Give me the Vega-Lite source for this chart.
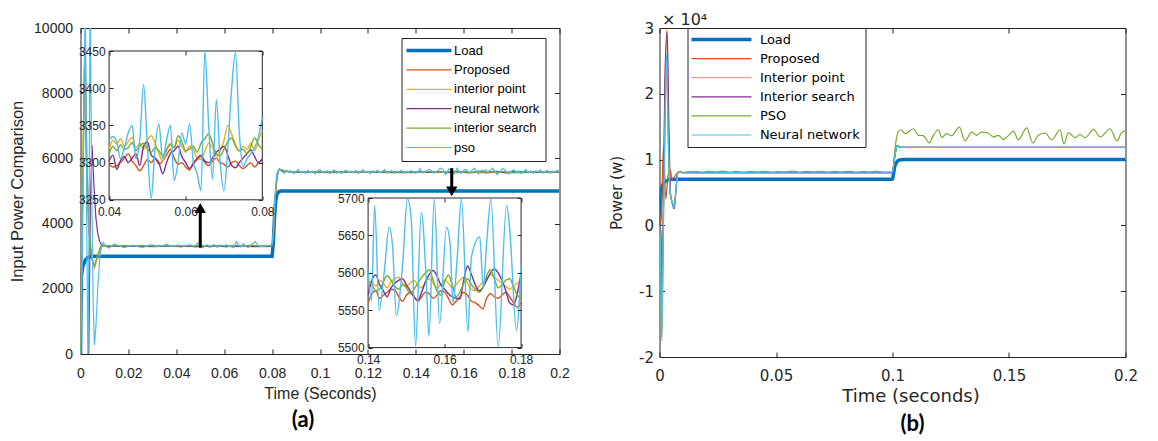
{
"$schema": "https://vega.github.io/schema/vega-lite/v6.json",
"background": "white",
"padding": {"left": 8.5, "top": 10, "right": 0, "bottom": 0},
"bounds": "flush",
"spacing": 100,
"config": {
  "view": {"stroke": "#262626", "strokeWidth": 1},
  "font": "Liberation Sans",
  "axis": {"grid": false, "domain": false, "tickColor": "#262626", "labelColor": "#262626", "titleColor": "#262626", "labelFont": "Liberation Sans", "titleFont": "Liberation Sans", "titleFontWeight": "normal", "labelFontSize": 14, "titleFontSize": 16, "tickSize": -5, "labelFlush": false, "labelOverlap": false}
},
"resolve": {"scale": {"color": "independent"}, "legend": {"color": "independent"}},
"datasets": {
"a": [
{"t":0,"L":0,"P":0,"IP":0,"NN":0,"IS":0,"PSO":0},
{"t":0.0002,"L":1500},
{"t":0.0003,"P":2400,"IP":2600},
{"t":0.0004,"L":2400},
{"t":0.0005,"IS":2800},
{"t":0.0008,"PSO":3000},
{"t":0.001,"L":2700,"P":5000,"NN":-2000},
{"t":0.0012,"IP":7000},
{"t":0.0014,"IS":8000,"PSO":7000},
{"t":0.0016,"P":8800},
{"t":0.0018,"IP":9500},
{"t":0.002,"L":2880,"IS":9400,"PSO":11500},
{"t":0.0024,"P":6000},
{"t":0.0026,"IP":6000,"PSO":4000},
{"t":0.0028,"IS":5500},
{"t":0.003,"L":2960,"NN":-2000},
{"t":0.0031,"PSO":-500},
{"t":0.0034,"P":3800,"NN":-300},
{"t":0.0036,"IP":3800,"PSO":4000},
{"t":0.0038,"IS":3600},
{"t":0.004,"L":2990,"PSO":11500},
{"t":0.0041,"NN":4500},
{"t":0.0045,"P":3000},
{"t":0.0046,"IP":3000},
{"t":0.0047,"PSO":5000},
{"t":0.0048,"IS":2900,"NN":6400},
{"t":0.005,"L":3000},
{"t":0.0053,"PSO":1500},
{"t":0.0056,"NN":5200},
{"t":0.0058,"P":2650,"IP":2680,"IS":2700,"PSO":280},
{"t":0.0064,"NN":4200,"PSO":800},
{"t":0.007,"P":2950},
{"t":0.0072,"IP":3000,"IS":3050,"NN":3700,"PSO":2000},
{"t":0.008,"NN":3450,"PSO":2900},
{"t":0.0085,"P":3250,"IP":3300,"IS":3320},
{"t":0.0088,"PSO":3300},
{"t":0.009,"NN":3330},
{"t":0.0095,"P":3330,"IP":3350,"IS":3340,"PSO":3420},
{"t":0.0105,"P":3320,"IP":3335,"NN":3310,"IS":3335,"PSO":3300},
{"t":0.012,"P":3310,"IP":3325,"NN":3305,"IS":3320,"PSO":3250},
{"t":0.014,"PSO":3370},
{"t":0.015,"P":3300,"IP":3322,"NN":3305,"IS":3318},
{"t":0.016,"PSO":3330},
{"t":0.018,"PSO":3260},
{"t":0.02,"P":3298,"IP":3326,"NN":3302,"IS":3320,"PSO":3300},
{"t":0.022,"PSO":3340},
{"t":0.024,"PSO":3290},
{"t":0.025,"P":3302,"IP":3320,"NN":3306,"IS":3316},
{"t":0.026,"PSO":3260},
{"t":0.028,"PSO":3330},
{"t":0.03,"P":3296,"IP":3324,"NN":3300,"IS":3322,"PSO":3350},
{"t":0.032,"PSO":3290},
{"t":0.034,"PSO":3320},
{"t":0.035,"P":3300,"IP":3318,"NN":3304,"IS":3318},
{"t":0.036,"PSO":3360},
{"t":0.038,"PSO":3300},
{"t":0.040,"P":3298,"IP":3318,"NN":3302,"IS":3312,"PSO":3330},
{"t":0.041,"P":3294,"IP":3330,"NN":3310,"IS":3322,"PSO":3335},
{"t":0.042,"P":3296,"IP":3325,"NN":3291,"IS":3316,"PSO":3328},
{"t":0.043,"P":3300,"IP":3332,"NN":3303,"IS":3324,"PSO":3305},
{"t":0.044,"P":3306,"IP":3322,"NN":3308,"IS":3318,"PSO":3320},
{"t":0.045,"P":3312,"IP":3328,"NN":3300,"IS":3320,"PSO":3340},
{"t":0.046,"P":3302,"IP":3334,"NN":3306,"IS":3327,"PSO":3350},
{"t":0.047,"P":3296,"IP":3320,"NN":3312,"IS":3316,"PSO":3305},
{"t":0.048,"P":3289,"IP":3326,"NN":3296,"IS":3322,"PSO":3330},
{"t":0.049,"P":3296,"IP":3318,"NN":3322,"IS":3326,"PSO":3405},
{"t":0.050,"P":3304,"IP":3330,"NN":3328,"IS":3318,"PSO":3320},
{"t":0.051,"P":3300,"IP":3336,"NN":3310,"IS":3314,"PSO":3252},
{"t":0.052,"P":3306,"IP":3326,"NN":3306,"IS":3320,"PSO":3320},
{"t":0.053,"P":3298,"IP":3312,"NN":3300,"IS":3316,"PSO":3352},
{"t":0.054,"P":3302,"IP":3302,"NN":3285,"IS":3309,"PSO":3305},
{"t":0.055,"P":3310,"IP":3316,"NN":3300,"IS":3318,"PSO":3330},
{"t":0.056,"P":3318,"IP":3326,"NN":3312,"IS":3324,"PSO":3350},
{"t":0.057,"P":3306,"IP":3320,"NN":3316,"IS":3320,"PSO":3276},
{"t":0.058,"P":3298,"IP":3330,"NN":3322,"IS":3336,"PSO":3300},
{"t":0.059,"P":3300,"IP":3322,"NN":3308,"IS":3328,"PSO":3340},
{"t":0.060,"P":3294,"IP":3314,"NN":3300,"IS":3316,"PSO":3325},
{"t":0.061,"P":3290,"IP":3322,"NN":3292,"IS":3318,"PSO":3352},
{"t":0.062,"P":3300,"IP":3318,"NN":3298,"IS":3322,"PSO":3300},
{"t":0.063,"P":3304,"IP":3306,"NN":3306,"IS":3314,"PSO":3285},
{"t":0.064,"P":3308,"IP":3304,"NN":3310,"IS":3326,"PSO":3262},
{"t":0.065,"P":3300,"IP":3316,"NN":3302,"IS":3332,"PSO":3450},
{"t":0.066,"P":3296,"IP":3326,"NN":3300,"IS":3339,"PSO":3350},
{"t":0.067,"P":3302,"IP":3320,"NN":3306,"IS":3326,"PSO":3278},
{"t":0.068,"P":3306,"IP":3308,"NN":3314,"IS":3312,"PSO":3385},
{"t":0.069,"P":3300,"IP":3316,"NN":3318,"IS":3309,"PSO":3300},
{"t":0.070,"P":3298,"IP":3330,"NN":3322,"IS":3318,"PSO":3262},
{"t":0.071,"P":3294,"IP":3350,"NN":3310,"IS":3328,"PSO":3320},
{"t":0.072,"P":3300,"IP":3338,"NN":3296,"IS":3333,"PSO":3400},
{"t":0.073,"P":3302,"IP":3324,"NN":3293,"IS":3322,"PSO":3448},
{"t":0.074,"P":3296,"IP":3316,"NN":3300,"IS":3316,"PSO":3340},
{"t":0.075,"P":3292,"IP":3322,"NN":3306,"IS":3318,"PSO":3295},
{"t":0.076,"P":3296,"IP":3318,"NN":3312,"IS":3312,"PSO":3305},
{"t":0.077,"P":3300,"IP":3326,"NN":3317,"IS":3322,"PSO":3312},
{"t":0.078,"P":3294,"IP":3316,"NN":3308,"IS":3333,"PSO":3320},
{"t":0.079,"P":3300,"IP":3330,"NN":3300,"IS":3324,"PSO":3335},
{"t":0.080,"L":3000,"P":3304,"IP":3343,"NN":3305,"IS":3318,"PSO":3360},
{"t":0.0805,"L":3400,"P":3600,"IP":3600,"NN":3600,"IS":3600,"PSO":3700},
{"t":0.081,"L":4200,"P":4400,"IP":4400,"NN":4400,"IS":4400,"PSO":4600},
{"t":0.0815,"L":4700,"P":5000,"IP":5000,"NN":5000,"IS":5000,"PSO":5200},
{"t":0.082,"L":4900,"P":5400,"IP":5400,"NN":5400,"IS":5400,"PSO":5550},
{"t":0.0825,"P":5600,"IP":5600,"NN":5600,"IS":5600},
{"t":0.083,"L":4990,"P":5660,"IP":5670,"NN":5660,"IS":5670,"PSO":5680},
{"t":0.084,"L":5000,"P":5640,"IP":5650,"NN":5640,"IS":5650,"PSO":5600},
{"t":0.085,"P":5600,"IP":5610,"NN":5605,"IS":5615,"PSO":5540},
{"t":0.086,"PSO":5640},{"t":0.087,"PSO":5560},{"t":0.088,"PSO":5620},{"t":0.089,"PSO":5530},
{"t":0.090,"P":5572,"IP":5588,"NN":5582,"IS":5590,"PSO":5600},
{"t":0.091,"PSO":5660},{"t":0.092,"PSO":5560},{"t":0.093,"PSO":5600},{"t":0.094,"PSO":5540},
{"t":0.095,"P":5568,"IP":5586,"NN":5590,"IS":5584,"PSO":5630},
{"t":0.096,"PSO":5570},{"t":0.097,"PSO":5610},{"t":0.098,"PSO":5520},{"t":0.099,"PSO":5620},
{"t":0.100,"P":5574,"IP":5590,"NN":5580,"IS":5592,"PSO":5660},
{"t":0.101,"PSO":5560},{"t":0.102,"PSO":5590},{"t":0.103,"PSO":5620},{"t":0.104,"PSO":5540},
{"t":0.105,"P":5566,"IP":5584,"NN":5586,"IS":5580,"PSO":5600},
{"t":0.106,"PSO":5650},{"t":0.107,"PSO":5550},{"t":0.108,"PSO":5600},{"t":0.109,"PSO":5540},
{"t":0.110,"P":5570,"IP":5588,"NN":5578,"IS":5588,"PSO":5610},
{"t":0.111,"PSO":5640},{"t":0.112,"PSO":5560},{"t":0.113,"PSO":5610},{"t":0.114,"PSO":5570},
{"t":0.115,"P":5576,"IP":5592,"NN":5590,"IS":5584,"PSO":5630},
{"t":0.116,"PSO":5540},{"t":0.117,"PSO":5600},{"t":0.118,"PSO":5650},{"t":0.119,"PSO":5560},
{"t":0.120,"P":5568,"IP":5584,"NN":5584,"IS":5594,"PSO":5600},
{"t":0.121,"PSO":5530},{"t":0.122,"PSO":5620},{"t":0.123,"PSO":5580},{"t":0.124,"PSO":5640},
{"t":0.125,"P":5572,"IP":5590,"NN":5576,"IS":5582,"PSO":5560},
{"t":0.126,"PSO":5600},{"t":0.127,"PSO":5660},{"t":0.128,"PSO":5550},{"t":0.129,"PSO":5590},
{"t":0.130,"P":5566,"IP":5586,"NN":5588,"IS":5590,"PSO":5630},
{"t":0.131,"PSO":5540},{"t":0.132,"PSO":5610},{"t":0.133,"PSO":5580},{"t":0.134,"PSO":5640},
{"t":0.135,"P":5574,"IP":5590,"NN":5582,"IS":5584,"PSO":5550},
{"t":0.136,"PSO":5600},{"t":0.137,"PSO":5570},{"t":0.138,"PSO":5630},{"t":0.139,"PSO":5580},
{"t":0.140,"P":5560,"IP":5585,"NN":5570,"IS":5590},
{"t":0.141,"P":5572,"IP":5588,"NN":5590,"IS":5584},
{"t":0.142,"P":5576,"IP":5582,"NN":5597,"IS":5576},
{"t":0.143,"P":5566,"IP":5590,"NN":5584,"IS":5578},
{"t":0.144,"P":5570,"IP":5586,"NN":5576,"IS":5588},
{"t":0.145,"P":5574,"IP":5580,"NN":5568,"IS":5596},
{"t":0.146,"P":5578,"IP":5588,"NN":5580,"IS":5590},
{"t":0.147,"P":5577,"IP":5592,"NN":5586,"IS":5582},
{"t":0.148,"P":5568,"IP":5594,"NN":5590,"IS":5578},
{"t":0.149,"P":5562,"IP":5586,"NN":5592,"IS":5584},
{"t":0.150,"P":5570,"IP":5582,"NN":5584,"IS":5580},
{"t":0.151,"P":5574,"IP":5586,"NN":5576,"IS":5572},
{"t":0.152,"P":5568,"IP":5590,"NN":5568,"IS":5578},
{"t":0.153,"P":5562,"IP":5584,"NN":5563,"IS":5586},
{"t":0.154,"P":5568,"IP":5580,"NN":5574,"IS":5594},
{"t":0.155,"P":5574,"IP":5588,"NN":5588,"IS":5600},
{"t":0.156,"P":5572,"IP":5592,"NN":5598,"IS":5604},
{"t":0.157,"P":5566,"IP":5586,"NN":5603,"IS":5590},
{"t":0.158,"P":5570,"IP":5580,"NN":5596,"IS":5576},
{"t":0.159,"P":5576,"IP":5584,"NN":5584,"IS":5570},
{"t":0.160,"P":5574,"IP":5590,"NN":5578,"IS":5588},
{"t":0.161,"P":5566,"IP":5586,"NN":5572,"IS":5597},
{"t":0.162,"P":5557,"IP":5580,"NN":5568,"IS":5584},
{"t":0.163,"P":5562,"IP":5584,"NN":5566,"IS":5568},
{"t":0.164,"P":5568,"IP":5590,"NN":5565,"IS":5574},
{"t":0.165,"P":5574,"IP":5594,"NN":5590,"IS":5586},
{"t":0.166,"P":5570,"IP":5586,"NN":5609,"IS":5592},
{"t":0.167,"P":5562,"IP":5578,"NN":5598,"IS":5584},
{"t":0.168,"P":5560,"IP":5576,"NN":5584,"IS":5578},
{"t":0.169,"P":5556,"IP":5582,"NN":5576,"IS":5574},
{"t":0.170,"P":5552,"IP":5588,"NN":5580,"IS":5580},
{"t":0.171,"P":5566,"IP":5592,"NN":5590,"IS":5596},
{"t":0.172,"P":5572,"IP":5598,"NN":5600,"IS":5604},
{"t":0.173,"P":5568,"IP":5594,"NN":5605,"IS":5592},
{"t":0.174,"P":5566,"IP":5590,"NN":5600,"IS":5580},
{"t":0.175,"P":5570,"IP":5586,"NN":5590,"IS":5584},
{"t":0.176,"P":5574,"IP":5582,"NN":5576,"IS":5590},
{"t":0.177,"P":5568,"IP":5578,"NN":5560,"IS":5592},
{"t":0.178,"P":5560,"IP":5582,"NN":5557,"IS":5582},
{"t":0.179,"P":5554,"IP":5586,"NN":5572,"IS":5570},
{"t":0.180,"P":5560,"IP":5590,"NN":5600,"IS":5566},
{"t":0.1400,"PSO":5603},{"t":0.1409,"PSO":5563},{"t":0.1417,"PSO":5690},{"t":0.1429,"PSO":5550},
{"t":0.1442,"PSO":5600},{"t":0.1455,"PSO":5661},{"t":0.1464,"PSO":5635},{"t":0.1474,"PSO":5543},
{"t":0.1490,"PSO":5610},{"t":0.1503,"PSO":5699},{"t":0.1513,"PSO":5670},{"t":0.1524,"PSO":5502},
{"t":0.1539,"PSO":5681},{"t":0.1553,"PSO":5580},{"t":0.1559,"PSO":5515},{"t":0.1573,"PSO":5699},
{"t":0.1587,"PSO":5532},{"t":0.1605,"PSO":5661},{"t":0.1614,"PSO":5640},{"t":0.1622,"PSO":5560},
{"t":0.1633,"PSO":5620},{"t":0.1644,"PSO":5699},{"t":0.1661,"PSO":5521},{"t":0.1670,"PSO":5621},
{"t":0.1692,"PSO":5648},{"t":0.1701,"PSO":5580},{"t":0.1710,"PSO":5640},{"t":0.1721,"PSO":5699},
{"t":0.1740,"PSO":5501},{"t":0.1762,"PSO":5690},{"t":0.1770,"PSO":5660},{"t":0.1788,"PSO":5523},
{"t":0.1800,"PSO":5610},
{"t":0.181,"PSO":5650},{"t":0.182,"PSO":5560},{"t":0.183,"PSO":5620},{"t":0.184,"PSO":5530},
{"t":0.185,"P":5566,"IP":5588,"NN":5590,"IS":5580,"PSO":5600},
{"t":0.186,"PSO":5660},{"t":0.187,"PSO":5560},{"t":0.188,"PSO":5610},{"t":0.189,"PSO":5540},
{"t":0.190,"P":5572,"IP":5584,"NN":5580,"IS":5590,"PSO":5620},
{"t":0.191,"PSO":5580},{"t":0.192,"PSO":5650},{"t":0.193,"PSO":5550},{"t":0.194,"PSO":5600},
{"t":0.195,"P":5568,"IP":5590,"NN":5586,"IS":5584,"PSO":5630},
{"t":0.196,"PSO":5540},{"t":0.197,"PSO":5610},{"t":0.198,"PSO":5580},{"t":0.199,"PSO":5640},
{"t":0.200,"L":5000,"P":5570,"IP":5586,"NN":5584,"IS":5588,"PSO":5590}
],
"b": [
{"t":0,"L":0,"P":0,"IP":0,"IS":0,"PSO":0,"NN":0},
{"t":0.0004,"L":3500},
{"t":0.0005,"PSO":-5000,"NN":-5000},
{"t":0.0006,"IP":-2000,"IS":-1000},
{"t":0.0008,"P":2000},
{"t":0.001,"L":5800,"IP":-15000,"IS":-12000,"PSO":-17500,"NN":-17000},
{"t":0.0016,"IP":0,"IS":2000,"PSO":-2000,"NN":-1000},
{"t":0.0017,"P":12000},
{"t":0.002,"L":6500},
{"t":0.0023,"IP":20000,"IS":22000},
{"t":0.0024,"PSO":15000,"NN":17000},
{"t":0.0027,"P":4000},
{"t":0.003,"L":6800,"NN":26000},
{"t":0.0031,"IP":29800,"PSO":25000},
{"t":0.0033,"IS":29500},
{"t":0.0035,"P":7000},
{"t":0.0038,"IP":15000,"PSO":12000,"NN":13000},
{"t":0.004,"IS":16000},
{"t":0.0045,"P":8500,"IP":5000},
{"t":0.0046,"PSO":4500,"NN":5000},
{"t":0.0047,"IS":5000},
{"t":0.005,"L":7000},
{"t":0.0055,"P":7000,"IP":3500,"IS":3300},
{"t":0.0056,"PSO":3500,"NN":3400},
{"t":0.0063,"IP":2800,"IS":2500,"PSO":3000,"NN":2700},
{"t":0.0065,"P":7400},
{"t":0.007,"IP":5500,"IS":5000},
{"t":0.0071,"NN":5500},
{"t":0.0072,"PSO":6000},
{"t":0.0078,"IP":8000,"IS":8000},
{"t":0.008,"P":8100,"PSO":8100,"NN":8000},
{"t":0.009,"IP":8200,"IS":8150,"PSO":8200,"NN":8100},
{"t":0.01,"P":8000,"IP":8000,"IS":8000,"PSO":8050,"NN":8000},
{"t":0.012,"PSO":8150},{"t":0.015,"PSO":8230},{"t":0.018,"PSO":8100},{"t":0.021,"PSO":8200},
{"t":0.024,"PSO":8120},{"t":0.027,"PSO":8240},{"t":0.03,"PSO":8110},{"t":0.033,"PSO":8200},
{"t":0.036,"PSO":8090},{"t":0.039,"PSO":8210},{"t":0.042,"PSO":8130},{"t":0.045,"PSO":8230},
{"t":0.048,"PSO":8100},{"t":0.051,"PSO":8190},{"t":0.054,"PSO":8120},{"t":0.057,"PSO":8250},
{"t":0.06,"PSO":8110},{"t":0.063,"PSO":8200},{"t":0.066,"PSO":8140},{"t":0.069,"PSO":8230},
{"t":0.072,"PSO":8100},{"t":0.075,"PSO":8200},{"t":0.078,"PSO":8120},{"t":0.081,"PSO":8220},
{"t":0.084,"PSO":8100},{"t":0.087,"PSO":8190},{"t":0.09,"PSO":8130},{"t":0.093,"PSO":8220},
{"t":0.096,"PSO":8110},
{"t":0.03,"P":8010,"IP":8030,"IS":8000,"NN":8010},
{"t":0.06,"P":8000,"IP":8020,"IS":8010,"NN":8000},
{"t":0.0998,"L":7000,"P":8000,"IP":8020,"IS":8010,"NN":8000,"PSO":8150},
{"t":0.1,"L":7000},
{"t":0.1003,"P":8600,"IP":8600,"IS":8600,"NN":8600,"PSO":8700},
{"t":0.1005,"L":8000},
{"t":0.1008,"P":10000,"IP":10000,"IS":10000,"NN":10000,"PSO":10800},
{"t":0.101,"L":9000},
{"t":0.1015,"P":11500,"IP":11500,"IS":11500,"NN":11500,"PSO":12800},
{"t":0.102,"L":9700,"P":12100,"IP":12100,"IS":12150,"NN":12100},
{"t":0.1025,"PSO":14300},
{"t":0.1026,"P":12000,"IP":12000,"IS":12000,"NN":12000},
{"t":0.103,"L":9950},
{"t":0.104,"P":11850,"IP":11850,"IS":11870,"NN":11860},
{"t":0.105,"L":10000},
{"t":0.15,"P":11850,"IP":11840,"IS":11870,"NN":11860},
{"t":0.2,"L":10000,"P":11850,"IP":11840,"IS":11870,"NN":11860},
{"t":0.1036,"PSO":14540},{"t":0.1054,"PSO":13940},{"t":0.109,"PSO":14690},{"t":0.1111,"PSO":13690},
{"t":0.1132,"PSO":13640},{"t":0.1158,"PSO":12540},{"t":0.1175,"PSO":13690},{"t":0.1197,"PSO":14540},
{"t":0.1211,"PSO":13340},{"t":0.1232,"PSO":13940},{"t":0.1254,"PSO":13640},{"t":0.1287,"PSO":14930},
{"t":0.1311,"PSO":12840},{"t":0.134,"PSO":14190},{"t":0.1361,"PSO":13690},{"t":0.1382,"PSO":14190},
{"t":0.1411,"PSO":14040},{"t":0.1433,"PSO":13440},{"t":0.1454,"PSO":13690},{"t":0.1476,"PSO":13040},
{"t":0.1497,"PSO":13640},{"t":0.1519,"PSO":14340},{"t":0.154,"PSO":12990},{"t":0.1576,"PSO":14830},
{"t":0.1602,"PSO":12540},{"t":0.1626,"PSO":13690},{"t":0.1655,"PSO":14040},{"t":0.1684,"PSO":12990},
{"t":0.1719,"PSO":14540},{"t":0.1736,"PSO":12340},{"t":0.1755,"PSO":14090},{"t":0.1784,"PSO":13340},
{"t":0.1805,"PSO":13790},{"t":0.1827,"PSO":13340},{"t":0.1863,"PSO":14590},{"t":0.1891,"PSO":13440},
{"t":0.1934,"PSO":14690},{"t":0.1963,"PSO":12840},{"t":0.1985,"PSO":14190},{"t":0.2,"PSO":14340}
]
},
"hconcat": [
{
  "width": 479, "height": 326,
  "title": {"text": "(a)", "orient": "bottom", "font": "Lato", "fontSize": 22, "fontWeight": "bold", "offset": 9, "dx": -17, "color": "#000000"},
  "resolve": {"scale": {"x": "independent", "y": "independent"}},
  "layer": [
    {
      "resolve": {"axis": {"x": "independent", "y": "independent"}},
      "layer": [
        {
          "data": {"name": "a"},
          "transform": [{"fold": ["L", "P", "IP", "NN", "IS", "PSO"], "as": ["series", "v"]}, {"filter": "isValid(datum.v)"}],
          "mark": {"type": "line", "clip": true},
          "encoding": {
            "x": {"field": "t", "type": "quantitative", "scale": {"domain": [0, 0.2], "zero": false, "nice": false},
                  "axis": {"orient": "bottom", "values": [0, 0.02, 0.04, 0.06, 0.08, 0.1, 0.12, 0.14, 0.16, 0.18, 0.2], "format": "~g", "labelPadding": 17, "title": "Time (Seconds)", "titlePadding": 5}},
            "y": {"field": "v", "type": "quantitative", "scale": {"domain": [0, 10000], "zero": false, "nice": false},
                  "axis": {"orient": "left", "values": [0, 2000, 4000, 6000, 8000, 10000], "format": "d", "labelPadding": 13, "title": "Input Power Comparison", "titleFontSize": 16.5, "titlePadding": 8}},
            "color": {"field": "series", "type": "nominal",
                      "scale": {"domain": ["L", "P", "IP", "NN", "IS", "PSO"], "range": ["#0072BD", "#D95319", "#EDB120", "#7E2F8E", "#77AC30", "#4DBEEE"]},
                      "legend": {"orient": "none", "legendX": 321, "legendY": 10, "title": null, "symbolType": "M-1,0H5", "symbolSize": 225, "symbolStrokeWidth": 1.2, "labelFont": "Liberation Sans", "labelFontSize": 13, "labelColor": "#000000", "labelOffset": 33.6, "rowPadding": 5.4, "padding": 6, "strokeColor": "#262626", "fillColor": "white",
                                 "labelExpr": "datum.label == 'L' ? 'Load' : datum.label == 'P' ? 'Proposed' : datum.label == 'IP' ? 'interior point' : datum.label == 'NN' ? 'neural network' : datum.label == 'IS' ? 'interior search' : 'pso'",
                                 "encode": {"symbols": {"update": {"strokeWidth": {"signal": "datum.value == 'L' ? 3.5 : 1.2"}}}}}},
            "strokeWidth": {"condition": {"test": "datum.series == 'L'", "value": 3.5}, "value": 1.2}
          }
        },
        {
          "data": {"values": [{"t": 0.05, "ya": 3260, "yb": 4400}, {"t": 0.155, "ya": 5700, "yb": 5100}]},
          "mark": {"type": "rule", "color": "#000000", "strokeWidth": 3},
          "encoding": {
            "x": {"field": "t", "type": "quantitative", "scale": {"domain": [0, 0.2], "zero": false, "nice": false}, "axis": null},
            "y": {"field": "ya", "type": "quantitative", "scale": {"domain": [0, 10000], "zero": false, "nice": false}, "axis": null},
            "y2": {"field": "yb"}
          }
        },
        {
          "data": {"values": [{"t": 0.05, "h": 4480, "d": "up"}, {"t": 0.155, "h": 4990, "d": "down"}]},
          "mark": {"type": "point", "filled": true, "color": "#000000", "opacity": 1, "size": 130},
          "encoding": {
            "x": {"field": "t", "type": "quantitative", "scale": {"domain": [0, 0.2], "zero": false, "nice": false}, "axis": null},
            "y": {"field": "h", "type": "quantitative", "scale": {"domain": [0, 10000], "zero": false, "nice": false}, "axis": null},
            "shape": {"field": "d", "type": "nominal", "scale": {"domain": ["up", "down"], "range": ["triangle-up", "triangle-down"]}, "legend": null}
          }
        },
        {
          "data": {"values": [{"t": 0, "v": 0}, {"t": 0.2, "v": 10000}]},
          "mark": {"type": "point", "opacity": 0},
          "encoding": {
            "x": {"field": "t", "type": "quantitative", "scale": {"domain": [0, 0.2], "zero": false, "nice": false},
                  "axis": {"orient": "top", "values": [0, 0.02, 0.04, 0.06, 0.08, 0.1, 0.12, 0.14, 0.16, 0.18, 0.2], "labels": false, "title": null}},
            "y": {"field": "v", "type": "quantitative", "scale": {"domain": [0, 10000], "zero": false, "nice": false},
                  "axis": {"orient": "right", "values": [0, 2000, 4000, 6000, 8000, 10000], "labels": false, "title": null}}
          }
        }
      ]
    },
    {
      "resolve": {"axis": {"x": "independent", "y": "independent"}},
      "layer": [
        {
          "data": {"values": [{"a": 0.04, "b": 0.08, "c": 3250, "d": 3450}]},
          "mark": {"type": "rect", "fill": "white", "stroke": "#262626", "strokeWidth": 1},
          "encoding": {
            "x": {"field": "a", "type": "quantitative", "scale": {"domain": [0.04, 0.08], "range": [28.6, 181.8], "zero": false, "nice": false},
                  "axis": {"orient": "bottom", "offset": -154.2, "zindex": 2, "values": [0.04, 0.06, 0.08], "format": ".2f", "labelFontSize": 12, "tickSize": -4, "labelPadding": 10.5, "title": null}},
            "x2": {"field": "b"},
            "y": {"field": "c", "type": "quantitative", "scale": {"domain": [3250, 3450], "range": [171.8, 23], "zero": false, "nice": false},
                  "axis": {"orient": "left", "offset": -28.6, "zindex": 2, "values": [3250, 3300, 3350, 3400, 3450], "format": "d", "labelFontSize": 12, "tickSize": -4, "labelPadding": 8, "title": null}},
            "y2": {"field": "d"}
          }
        },
        {
          "data": {"name": "a"},
          "transform": [{"fold": ["P", "IP", "NN", "IS", "PSO"], "as": ["series", "v"]}, {"filter": "isValid(datum.v)"}, {"filter": {"field": "t", "range": [0.04, 0.08]}}],
          "mark": {"type": "line", "strokeWidth": 1.4, "interpolate": "monotone"},
          "encoding": {
            "x": {"field": "t", "type": "quantitative", "scale": {"domain": [0.04, 0.08], "range": [28.6, 181.8], "zero": false, "nice": false},
                  "axis": {"orient": "top", "offset": -23, "zindex": 2, "values": [0.04, 0.06, 0.08], "labels": false, "tickSize": -4, "title": null}},
            "y": {"field": "v", "type": "quantitative", "scale": {"domain": [3250, 3450], "range": [171.8, 23], "zero": false, "nice": false},
                  "axis": {"orient": "right", "offset": -297.2, "zindex": 2, "values": [3250, 3300, 3350, 3400, 3450], "labels": false, "tickSize": -4, "title": null}},
            "color": {"field": "series", "type": "nominal"}
          }
        }
      ]
    },
    {
      "resolve": {"axis": {"x": "independent", "y": "independent"}},
      "layer": [
        {
          "data": {"values": [{"a": 0.14, "b": 0.18, "c": 5500, "d": 5700}]},
          "mark": {"type": "rect", "fill": "white", "stroke": "#262626", "strokeWidth": 1},
          "encoding": {
            "x": {"field": "a", "type": "quantitative", "scale": {"domain": [0.14, 0.18], "range": [287.6, 440.6], "zero": false, "nice": false},
                  "axis": {"orient": "bottom", "offset": -6.4, "zindex": 2, "values": [0.14, 0.16, 0.18], "format": ".2f", "labelFontSize": 12, "tickSize": -4, "labelPadding": 10.5, "title": null}},
            "x2": {"field": "b"},
            "y": {"field": "c", "type": "quantitative", "scale": {"domain": [5500, 5700], "range": [319.6, 170], "zero": false, "nice": false},
                  "axis": {"orient": "left", "offset": -287.6, "zindex": 2, "values": [5500, 5550, 5600, 5650, 5700], "format": "d", "labelFontSize": 12, "tickSize": -4, "labelPadding": 8, "title": null}},
            "y2": {"field": "d"}
          }
        },
        {
          "data": {"name": "a"},
          "transform": [{"fold": ["P", "IP", "NN", "IS", "PSO"], "as": ["series", "v"]}, {"filter": "isValid(datum.v)"}, {"filter": {"field": "t", "range": [0.14, 0.18]}}],
          "mark": {"type": "line", "strokeWidth": 1.4, "interpolate": "monotone"},
          "encoding": {
            "x": {"field": "t", "type": "quantitative", "scale": {"domain": [0.14, 0.18], "range": [287.6, 440.6], "zero": false, "nice": false},
                  "axis": {"orient": "top", "offset": -170, "zindex": 2, "values": [0.14, 0.16, 0.18], "labels": false, "tickSize": -4, "title": null}},
            "y": {"field": "v", "type": "quantitative", "scale": {"domain": [5500, 5700], "range": [319.6, 170], "zero": false, "nice": false},
                  "axis": {"orient": "right", "offset": -38.4, "zindex": 2, "values": [5500, 5550, 5600, 5650, 5700], "labels": false, "tickSize": -4, "title": null}},
            "color": {"field": "series", "type": "nominal"}
          }
        }
      ]
    }
  ]
},
{
  "width": 466, "height": 329,
  "title": {"text": "(b)", "orient": "bottom", "font": "Lato", "fontSize": 22, "fontWeight": "bold", "offset": 9, "dx": 20, "color": "#000000"},
  "resolve": {"axis": {"x": "independent", "y": "independent"}},
  "layer": [
    {
      "data": {"name": "b"},
      "transform": [{"fold": ["L", "P", "IP", "IS", "PSO", "NN"], "as": ["series", "v"]}, {"filter": "isValid(datum.v)"}],
      "mark": {"type": "line", "clip": true, "interpolate": "monotone"},
      "encoding": {
        "x": {"field": "t", "type": "quantitative", "scale": {"domain": [0, 0.2], "zero": false, "nice": false},
              "axis": {"orient": "bottom", "values": [0, 0.05, 0.1, 0.15, 0.2], "format": "~g", "labelFont": "DejaVu Sans", "labelFontSize": 15, "labelPadding": 16, "title": "Time (seconds)", "titleFont": "DejaVu Sans", "titleFontSize": 18, "titlePadding": 4, "titleX": 251}},
        "y": {"field": "v", "type": "quantitative", "scale": {"domain": [-20000, 30000], "zero": false, "nice": false},
              "axis": {"orient": "left", "values": [-20000, -10000, 0, 10000, 20000, 30000], "labelExpr": "datum.value / 10000", "labelFont": "DejaVu Sans", "labelFontSize": 15, "labelPadding": 11, "title": "Power (w)", "titleFont": "DejaVu Sans", "titleFontSize": 15, "titlePadding": 14}},
        "color": {"field": "series", "type": "nominal",
                  "scale": {"domain": ["L", "P", "IP", "IS", "PSO", "NN"], "range": ["#0072BD", "#D95319", "#EDB120", "#7E2F8E", "#77AC30", "#4DBEEE"]},
                  "legend": {"orient": "none", "legendX": 28, "legendY": 0, "title": null, "symbolType": "M-1,0H7", "symbolSize": 225, "symbolStrokeWidth": 1.2, "labelFont": "DejaVu Sans", "labelFontSize": 13, "labelColor": "#000000", "labelOffset": 54.4, "rowPadding": 5.1, "padding": 5, "strokeColor": "#262626", "fillColor": "white",
                             "labelExpr": "datum.label == 'L' ? 'Load' : datum.label == 'P' ? ' Proposed' : datum.label == 'IP' ? ' Interior point' : datum.label == 'IS' ? ' Interior search' : datum.label == 'PSO' ? 'PSO' : ' Neural network       '",
                             "encode": {"symbols": {"update": {"strokeWidth": {"signal": "datum.value == 'L' ? 3.5 : 1.2"}}}}}},
        "strokeWidth": {"condition": {"test": "datum.series == 'L'", "value": 3.5}, "value": 1.2}
      }
    },
    {
      "data": {"values": [{"t": 0, "v": -20000}, {"t": 0.2, "v": 30000}]},
      "mark": {"type": "point", "opacity": 0},
      "encoding": {
        "x": {"field": "t", "type": "quantitative", "scale": {"domain": [0, 0.2], "zero": false, "nice": false},
              "axis": {"orient": "top", "values": [0, 0.05, 0.1, 0.15, 0.2], "labels": false, "title": "× 10⁴", "titleAnchor": "start", "titleAlign": "left", "titleBaseline": "alphabetic", "titleX": 2, "titleY": -4, "titleFont": "DejaVu Sans", "titleFontSize": 16}},
        "y": {"field": "v", "type": "quantitative", "scale": {"domain": [-20000, 30000], "zero": false, "nice": false},
              "axis": {"orient": "right", "values": [-20000, -10000, 0, 10000, 20000, 30000], "labels": false, "title": null}}
      }
    }
  ]
}
]
}
